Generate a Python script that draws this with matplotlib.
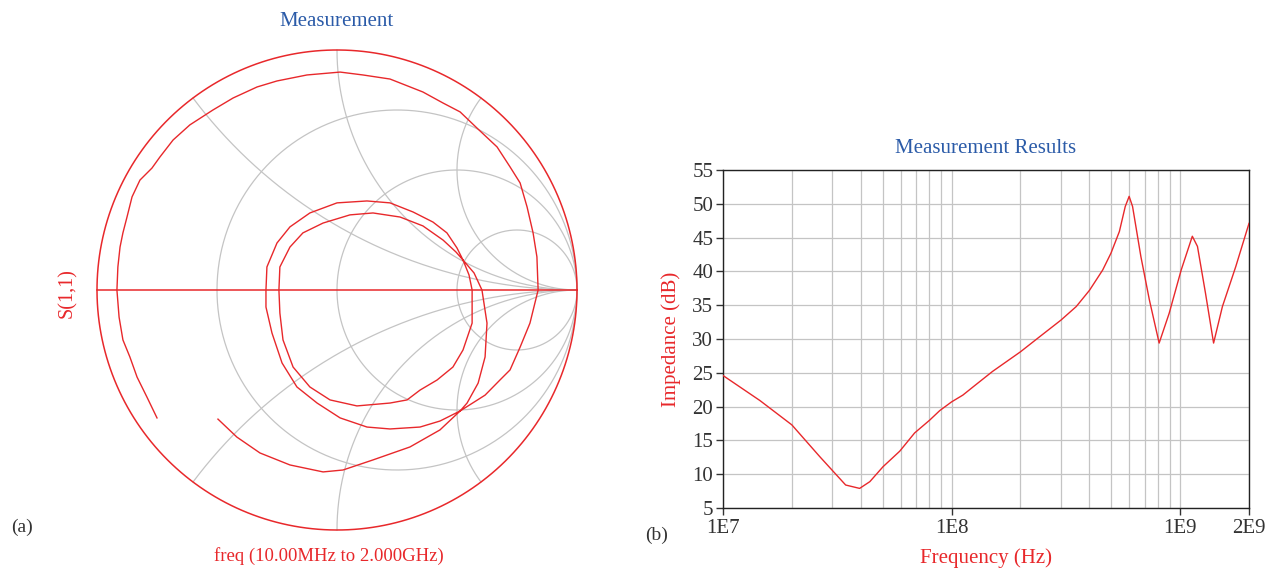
import numpy as np
import matplotlib
matplotlib.use('Agg')
import matplotlib.pyplot as plt

plt.rcParams['font.family'] = ['Liberation Serif', 'DejaVu Serif']

RED = '#e8282b'
BLUE = '#2b5ba8'
GRAY = '#c4c4c4'
DARK = '#333333'

s11_re = [-0.750, -0.792, -0.833, -0.863, -0.892, -0.908, -0.917,
          -0.913, -0.904, -0.892, -0.875, -0.854, -0.821, -0.771, -0.738, -0.683,
          -0.613, -0.517, -0.433, -0.333, -0.250, -0.125, 0.013, 0.108, 0.221,
          0.358, 0.442, 0.513, 0.583, 0.667, 0.721, 0.763, 0.792, 0.817, 0.833, 0.838,
          0.804, 0.763, 0.721, 0.679, 0.617, 0.513, 0.429, 0.346, 0.221, 0.125,
          0.013, -0.083, -0.167, -0.229, -0.271, -0.296, -0.296,
          -0.292, -0.250, -0.196, -0.113, 0.000, 0.125, 0.221, 0.317, 0.400,
          0.458, 0.500, 0.525, 0.550, 0.563,
          0.563, 0.525, 0.483, 0.417, 0.346, 0.292, 0.221, 0.083, -0.029,
          -0.113, -0.183, -0.225, -0.238, -0.242,
          -0.238, -0.196, -0.142, -0.058, 0.054, 0.150, 0.263, 0.358, 0.442,
          0.496, 0.525, 0.571, 0.604,
          0.625, 0.617, 0.588, 0.542, 0.513, 0.429, 0.304, 0.150, 0.025,
          -0.058, -0.196, -0.321, -0.417, -0.496]
s11_im = [-0.533, -0.446, -0.363, -0.279, -0.208, -0.113, 0.000,
          0.096, 0.179, 0.238, 0.304, 0.388, 0.458, 0.508, 0.554, 0.625,
          0.688, 0.750, 0.800, 0.846, 0.871, 0.896, 0.908, 0.896, 0.879,
          0.825, 0.779, 0.742, 0.675, 0.596, 0.513, 0.446, 0.346, 0.238, 0.138, 0.000,
          -0.138, -0.238, -0.333, -0.375, -0.438, -0.504, -0.546, -0.571, -0.579, -0.571,
          -0.533, -0.471, -0.404, -0.304, -0.179, -0.071, 0.000,
          0.096, 0.196, 0.263, 0.321, 0.363, 0.371, 0.363, 0.325, 0.283,
          0.238, 0.175, 0.125, 0.063, 0.000,
          -0.138, -0.250, -0.321, -0.375, -0.417, -0.458, -0.471, -0.483, -0.458,
          -0.404, -0.321, -0.208, -0.096, 0.000,
          0.096, 0.179, 0.238, 0.279, 0.313, 0.321, 0.304, 0.267, 0.208,
          0.158, 0.125, 0.071, 0.000,
          -0.138, -0.279, -0.388, -0.471, -0.504, -0.583, -0.654, -0.708, -0.750,
          -0.758, -0.729, -0.679, -0.613, -0.538]

# impedance magnitude vs frequency
freq_hz = [1.00e7, 1.45e7, 2.00e7, 2.65e7, 3.44e7, 3.96e7, 4.39e7, 5.01e7,
           5.93e7, 6.89e7, 8.02e7, 8.87e7, 1.00e8, 1.12e8, 1.24e8, 1.51e8,
           2.00e8, 2.42e8, 3.01e8, 3.51e8, 4.01e8, 4.58e8, 4.98e8, 5.42e8,
           5.75e8, 5.98e8, 6.19e8, 6.73e8, 7.33e8, 8.09e8, 8.95e8, 1.01e9,
           1.13e9, 1.19e9, 1.29e9, 1.40e9, 1.53e9, 1.75e9, 2.00e9]
impedance_db = [24.6, 20.9, 17.3, 12.6, 8.4, 7.9, 8.9, 11.1,
                13.4, 16.1, 18.0, 19.4, 20.7, 21.7, 22.9, 25.2,
                28.1, 30.3, 32.8, 34.8, 37.2, 40.2, 42.7, 45.9,
                49.6, 51.1, 49.6, 42.2, 35.8, 29.4, 33.8, 40.2,
                45.2, 43.7, 36.8, 29.4, 34.8, 40.7, 47.1]

x_ticks = [1e7, 1e8, 1e9, 2e9]
x_tick_labels = ['1E7', '1E8', '1E9', '2E9']
y_ticks = [5, 10, 15, 20, 25, 30, 35, 40, 45, 50, 55]

W, H = 1277, 574
fig = plt.figure(figsize=(W / 100, H / 100), dpi=100)

# ---- (a) Smith chart ----
R = 240.0
half = 250.0
ax1 = fig.add_axes([(337 - half) / W, (H - 290 - half) / H, 2 * half / W, 2 * half / H])
lim = half / R
ax1.set_xlim(-lim, lim)
ax1.set_ylim(-lim, lim)
ax1.axis('off')

t = np.linspace(0, 2 * np.pi, 500)
for r in [1 / 3, 1, 3]:
    c = r / (1 + r)
    rad = 1 / (1 + r)
    ax1.plot(c + rad * np.cos(t), rad * np.sin(t), color=GRAY, lw=0.9, zorder=1)
rr = np.concatenate([[0], np.logspace(-3, 4, 600)])
for x in [0.5, 1, 2, -0.5, -1, -2]:
    g = (rr + 1j * x - 1) / (rr + 1j * x + 1)
    ax1.plot(g.real, g.imag, color=GRAY, lw=0.9, zorder=1)

ax1.plot(np.cos(t), np.sin(t), color=RED, lw=1.1, zorder=2)
ax1.plot([-1, 1], [0, 0], color=RED, lw=1.1, zorder=2)
ax1.plot(s11_re, s11_im, color=RED, lw=1.0, zorder=3)

fig.text(337 / W, 1 - 21 / H, 'Measurement', color=BLUE, fontsize=15,
         ha='center', va='center')
fig.text(67 / W, 1 - 293 / H, 'S(1,1)', color=RED, fontsize=14.5,
         rotation=90, ha='center', va='center')
fig.text(329 / W, 1 - 556 / H, 'freq (10.00MHz to 2.000GHz)', color=RED,
         fontsize=13.5, ha='center', va='center')
fig.text(22 / W, 1 - 527 / H, '(a)', color=DARK, fontsize=14, ha='center', va='center')
fig.text(657 / W, 1 - 535 / H, '(b)', color=DARK, fontsize=14, ha='center', va='center')

# ---- (b) impedance vs frequency ----
ax2 = fig.add_axes([723 / W, (H - 508) / H, 526 / W, 338 / H])
ax2.plot(freq_hz, impedance_db, color=RED, lw=1.0, zorder=3)
ax2.set_xscale('log')
ax2.set_xlim(1e7, 2e9)
ax2.set_ylim(5, 55)
ax2.set_xticks(x_ticks)
ax2.set_xticklabels(x_tick_labels)
minor = [m * 10 ** e for e in (7, 8) for m in range(2, 10)]
ax2.set_xticks(minor, minor=True)
ax2.set_xticklabels([], minor=True)
ax2.set_yticks(y_ticks)
ax2.tick_params(axis='x', which='minor', length=0)
ax2.tick_params(axis='both', which='major', labelsize=15, colors=DARK,
                length=5, width=1.0, direction='out')
ax2.tick_params(axis='x', which='major', pad=3)
ax2.tick_params(axis='y', which='major', pad=2)
ax2.grid(True, which='both', axis='x', color=GRAY, lw=0.9, zorder=0)
ax2.grid(True, which='major', axis='y', color=GRAY, lw=0.9, zorder=0)
for s in ax2.spines.values():
    s.set_color('#222222')
    s.set_linewidth(1.0)
ax2.set_title('Measurement Results', color=BLUE, fontsize=15, pad=12.5)
ax2.set_xlabel('Frequency (Hz)', color=RED, fontsize=15, labelpad=7)
ax2.set_ylabel('Impedance (dB)', color=RED, fontsize=15, labelpad=8)

fig.savefig('out.png', dpi=100)
